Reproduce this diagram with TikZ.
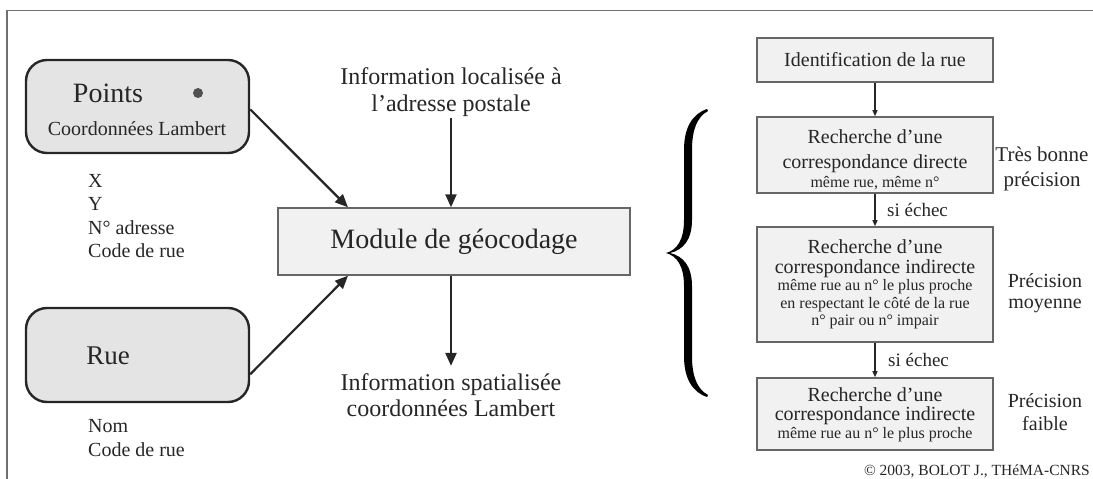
\documentclass[tikz,border=0pt]{standalone}
\usepackage{fontspec}
\setmainfont{Liberation Serif}
\usetikzlibrary{arrows.meta,calc}
\definecolor{ink}{HTML}{262626}
\definecolor{framegray}{HTML}{707070}
\definecolor{roundfill}{HTML}{E4E4E4}
\definecolor{boxfill}{HTML}{F1F1F1}
\definecolor{boxline}{HTML}{666666}
\definecolor{dotgray}{HTML}{505050}
\newcommand\fsz[2]{\fontsize{#1}{#2}\selectfont}
\begin{document}
\begin{tikzpicture}[x=1pt,y=-1pt,
  lbl/.style={inner sep=0pt, text=ink, anchor=base},
  lblw/.style={lbl, anchor=base west},
  roundbox/.style={draw=ink, line width=2.4pt, fill=roundfill, rounded corners=21pt, inner sep=0pt},
  modbox/.style={draw=boxline, line width=1.4pt, fill=boxfill, inner sep=0pt, text=ink},
  flowbox/.style={draw=boxline, line width=1.6pt, fill=boxfill, minimum width=236pt, inner sep=0pt, text=ink},
  bigarrow/.style={draw=ink, line width=2.2pt, -{Triangle[length=13pt,width=11pt]}},
  smallarrow/.style={draw=ink, line width=1.2pt, -{Triangle[length=6pt,width=5pt]}},
]
\useasboundingbox (0,0) rectangle (1093,479);
% frame
\draw[framegray, line width=1.6pt] (7,479) -- (7,10.5) -- (1093,10.5);

% ---- inputs: points and streets
\node[roundbox, minimum width=223, minimum height=93] (points) at (137.5,106.5) {};
\node[lbl, font=\fsz{28}{30}] (pointsT) at (108,102) {Points};
\node[circle, fill=dotgray, inner sep=0pt, minimum size=10pt] (pdot) at (198,93) {};
\node[lbl, font=\fsz{20}{22}] (pointsL) at (137,135) {Coordonnées Lambert};
\node[lblw, font=\fsz{20}{22}] (fX) at (88,187) {X};
\node[lblw, font=\fsz{20}{22}] (fY) at (88,210.5) {Y};
\node[lblw, font=\fsz{20}{22}] (fN) at (88,234) {N° adresse};
\node[lblw, font=\fsz{20}{22}] (fC) at (88,257.5) {Code de rue};

\node[roundbox, minimum width=223, minimum height=94] (rue) at (137.5,355) {};
\node[lbl, font=\fsz{27}{30}] (rueT) at (108,364) {Rue};
\node[lblw, font=\fsz{20}{22}] (fNom) at (88,432) {Nom};
\node[lblw, font=\fsz{20}{22}] (fCode) at (88,456) {Code de rue};

% ---- geocoding module
\node[modbox, minimum width=352, minimum height=67, font=\fsz{28}{30}] (module) at (454,241.5) {Module de géocodage};
\node[lbl, font=\fsz{24}{26}] (inA) at (451,84) {Information localisée à};
\node[lbl, font=\fsz{24}{26}] (inB) at (451,111) {l'adresse postale};
\node[lbl, font=\fsz{24}{26}] (outA) at (451,390) {Information spatialisée};
\node[lbl, font=\fsz{24}{26}] (outB) at (451,416) {coordonnées Lambert};

\draw[bigarrow] ($(inB.south)+(0,2)$) -- (inB.south |- module.north);
\draw[bigarrow] (outA.north |- module.south) -- ($(outA.north)+(0,-7)$);
\draw[bigarrow] ($(points.north east)!0.53!(points.south east)$) -- ($(module.north west)!0.2!(module.north east)$);
\draw[bigarrow] ($(rue.north east)!0.7!(rue.south east)$) -- ($(module.south west)!0.2!(module.south east)$);

% ---- brace
\fill[black] (707,109) .. controls (692,114) and (684,128) .. (684,150) -- (684,220)
  .. controls (684,240) and (677,250) .. (666,253)
  .. controls (677,256) and (684,266) .. (684,286) -- (684,356)
  .. controls (684,378) and (692,392) .. (707,397) -- (708,395)
  .. controls (697,389) and (692,376) .. (692,356) -- (692,286)
  .. controls (692,266) and (683,256) .. (670,253)
  .. controls (683,250) and (692,240) .. (692,220) -- (692,150)
  .. controls (692,130) and (697,117) .. (708,111) -- cycle;

% ---- matching steps
\node[flowbox, minimum height=44, font=\fsz{20}{22}] (fid) at (875,60) {Identification de la rue};

\node[flowbox, minimum height=76] (fdir) at (875,155) {};
\node[lbl, font=\fsz{20}{22}] (fdir1) at (875,143) {Recherche d'une};
\node[lbl, font=\fsz{20}{22}] (fdir2) at (875,168) {correspondance directe};
\node[lbl, font=\fsz{16}{18}] (fdir3) at (875,187) {même rue, même n°};

\node[flowbox, minimum height=115] (find) at (875,284.5) {};
\node[lbl, font=\fsz{20}{22}] (find1) at (875,253) {Recherche d'une};
\node[lbl, font=\fsz{20}{22}] (find2) at (875,273) {correspondance indirecte};
\node[lbl, font=\fsz{16}{18}] (find3) at (875,290) {même rue au n° le plus proche};
\node[lbl, font=\fsz{16}{18}] (find4) at (875,308) {en respectant le côté de la rue};
\node[lbl, font=\fsz{16}{18}] (find5) at (875,325) {n° pair ou n° impair};

\node[flowbox, minimum height=72] (fnear) at (875,414) {};
\node[lbl, font=\fsz{20}{22}] (fnear1) at (875,401) {Recherche d'une};
\node[lbl, font=\fsz{20}{22}] (fnear2) at (875,420) {correspondance indirecte};
\node[lbl, font=\fsz{16}{18}] (fnear3) at (875,438) {même rue au n° le plus proche};

\draw[smallarrow] (fid.south) -- (fdir.north);
\draw[smallarrow] (fdir.south) -- (find.north);
\draw[smallarrow] (find.south) -- (fnear.north);
\node[lblw, font=\fsz{19}{21}] (fail1) at (887,216) {si échec};
\node[lblw, font=\fsz{19}{21}] (fail2) at (888,366) {si échec};

\node[lbl, font=\fsz{21}{23}] (pA1) at (1042,161) {Très bonne};
\node[lbl, font=\fsz{21}{23}] (pA2) at (1042,186) {précision};
\node[lbl, font=\fsz{20}{22}] (pB1) at (1045,287) {Précision};
\node[lbl, font=\fsz{20}{22}] (pB2) at (1045,308) {moyenne};
\node[lbl, font=\fsz{20}{22}] (pC1) at (1045,407) {Précision};
\node[lbl, font=\fsz{20}{22}] (pC2) at (1045,430) {faible};

\node[lbl, anchor=base east, font=\fsz{15.5}{17}] (copy) at (1090,475) {© 2003, BOLOT J., THéMA-CNRS};
\end{tikzpicture}
\end{document}
